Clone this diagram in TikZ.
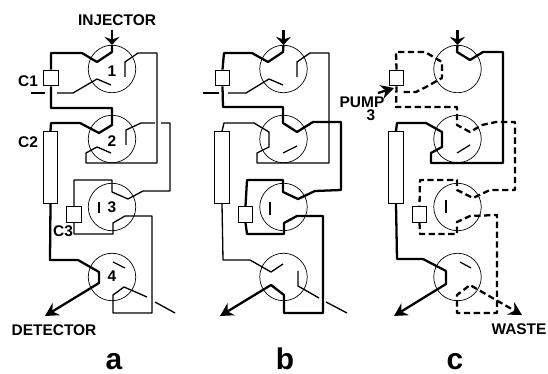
\documentclass[tikz,border=0pt]{standalone}
\usepackage{fontspec}
\setmainfont{Liberation Sans}
\usetikzlibrary{arrows.meta}
\tikzset{
  valve/.style={draw, circle, line width=0.4pt, minimum size=0.95cm, inner sep=0pt},
  loopbox/.style={draw, line width=0.7pt, minimum width=0.29cm, minimum height=0.31cm, inner sep=0pt},
  longbox/.style={loopbox, minimum height=1.43cm},
  lbl/.style={font=\fontsize{8.8}{10}\selectfont\bfseries, inner sep=0pt},
  panel/.style={font=\fontsize{17}{18}\selectfont\bfseries, inner sep=0pt, anchor=base},
  flow/.style={line width=1.3pt, line join=round},
  idle/.style={line width=0.75pt, line join=round},
  purge/.style={flow, dash pattern=on 3.6pt off 2pt},
  head/.style={-{Stealth[length=2.6mm, width=2.8mm]}},
  drop/.style={-{Stealth[length=1.6mm, width=3mm]}},
  stub/.style={line width=0.7pt},
}

\begin{document}
\begin{tikzpicture}[x=0.02cm, y=-0.02cm]
    \useasboundingbox (0,0) rectangle (548,374);
    % the four valves and three loops of every panel
    \foreach \col/\dx in {a/0, b/171.5, c/345.5} {
      \node[valve] (v1\col) at (112+\dx,69) {};
      \node[valve] (v2\col) at (112+\dx,139) {};
      \node[valve] (v3\col) at (112+\dx,207) {};
      \node[valve] (v4\col) at (112+\dx,277) {};
      \node[loopbox] (c1\col) at (51+\dx,78) {};
      \node[longbox] (c2\col) at (50.5+\dx,167.5) {};
      \node[loopbox] (c3\col) at (74+\dx,214.5) {};
      \coordinate (top\col) at (112+\dx,30);
      \draw[flow, drop] (top\col) -- (v1\col.north);
    }
    \coordinate (deta) at (45,316);
    \coordinate (detb) at (220,316);
    \coordinate (detc) at (394,316);
    \coordinate (wastec) at (522,315);
    \coordinate (pump) at (394,88);
    \coordinate (pumpin) at (378,93);

    % panel a
    \draw[flow] (v1a.north) -- (112,52) -- (97,62) -- (82,53) -- (51,53) -- (c1a.north);
    \draw[flow] (c1a.south) -- (51,108) -- (112,108) -- (112,125) -- (99,133) -- (80,123) -- (51,123) -- (c2a.north);
    \draw[flow, head] (c2a.south) -- (50,260) -- (78,260) -- (99,272) -- (99,283) -- (deta);
    \draw[idle] (125,77) -- (125,62) -- (138,53) -- (157,53) -- (157,163) -- (86,163) -- (86,153) -- (97,147) -- (111,153);
    \draw[idle] (111,85) -- (97,79) -- (73,93) -- (57,93);
    \draw[stub] (31,93) -- (45,93);
    \draw[idle] (126,145) -- (126,130) -- (141,123) -- (155,123);
    \draw[idle] (161,123) -- (170,123) -- (170,191) -- (143,191) -- (128,199) -- (112,192) -- (112,180) -- (74,180) -- (c3a.north);
    \draw[idle] (c3a.south) -- (74,234) -- (113,234) -- (113,223) -- (125,216) -- (152,216) -- (152,313) -- (113,313) -- (113,295) -- (124,287) -- (147,297);
    \draw[idle] (155,302) -- (175,313);
    \draw[stub] (99,202) -- (99,213);
    \draw[stub] (113,262) -- (125,268);

    % panel b
    \draw[flow] (v1b.north) -- (283,52) -- (268,62) -- (252,53) -- (224,53) -- (c1b.north);
    \draw[flow] (c1b.south) -- (223,107) -- (283,107) -- (283,123) -- (297,132) -- (313,122) -- (341,122) -- (341,190) -- (315,191) -- (298,199) -- (283,192) -- (283,180) -- (247,180) -- (c3b.north);
    \draw[flow, head] (c3b.south) -- (247,234) -- (284,234) -- (284,223) -- (297,216) -- (323,216) -- (323,313) -- (284,313) -- (284,295) -- (271,285) -- (detb);
    \draw[idle] (297,77) -- (297,62) -- (310,53) -- (329,53) -- (329,163) -- (257,163) -- (257,153) -- (269,147) -- (269,132) -- (254,123) -- (224,123) -- (c2b.north);
    \draw[idle] (c2b.south) -- (223,260) -- (250,260) -- (271,272) -- (283,264);
    \draw[idle] (283,85) -- (269,79) -- (246,93) -- (228,93);
    \draw[idle] (203,93) -- (219,93);
    \draw[stub] (283,153) -- (297,146);
    \draw[stub] (270,202) -- (270,215);
    \draw[idle] (298,271) -- (298,286) -- (319,298);
    \draw[idle] (326,302) -- (347,313);

    % panel c
    \draw[flow] (v1c.north) -- (457,52) -- (470,60) -- (483,52) -- (503,52) -- (503,163) -- (431,163) -- (431,153) -- (442,147) -- (442,132) -- (426,123) -- (397,123) -- (c2c.north);
    \draw[flow, head] (c2c.south) -- (397,259) -- (423,259) -- (446,271) -- (446,284) -- (detc);
    \draw[purge] (c1c.north) -- (396,52) -- (425,52) -- (442,62) -- (442,78) -- (426,87) -- (416,92) -- (400,92);
    \draw[purge] (c1c.south) -- (396,107) -- (457,107) -- (457,125) -- (470,132) -- (482,125) -- (496,122) -- (515,122) -- (515,190) -- (490,190) -- (473,198) -- (457,190) -- (457,180) -- (420,180) -- (c3c.north);
    \draw[purge, head] (c3c.south) -- (420,234) -- (457,234) -- (457,222) -- (470,216) -- (497,215) -- (497,313) -- (457,313) -- (457,295) -- (470,285) -- (wastec);
    \draw[flow, head] (pumpin) -- (pump);
    \draw[stub] (457,153) -- (470,145);
    \draw[stub] (446,200) -- (446,213);
    \draw[stub] (460,262) -- (471,268);

    % labels
    \node[lbl] (injlbl) at (117,20) {INJECTOR};
    \node[lbl] (c1lbl) at (28,81) {C1};
    \node[lbl] (c2lbl) at (28,142) {C2};
    \node[lbl] (c3lbl) at (63,231) {C3};
    \node[lbl] (n1) at (112,71) {1};
    \node[lbl] (n2) at (112,141) {2};
    \node[lbl] (n3) at (112,207) {3};
    \node[lbl] (n4) at (112,276) {4};
    \node[lbl] (detlbl) at (54,330) {DETECTOR};
    \node[lbl] (wastelbl) at (519,329) {WASTE};
    \node[lbl] (pumplbl) at (362,102) {PUMP};
    \node[lbl] (pumpnum) at (371,115) {3};
    \node[panel] (pa) at (114,370) {a};
    \node[panel] (pb) at (285,370) {b};
    \node[panel] (pc) at (455,370) {c};
  \end{tikzpicture}
\end{document}
